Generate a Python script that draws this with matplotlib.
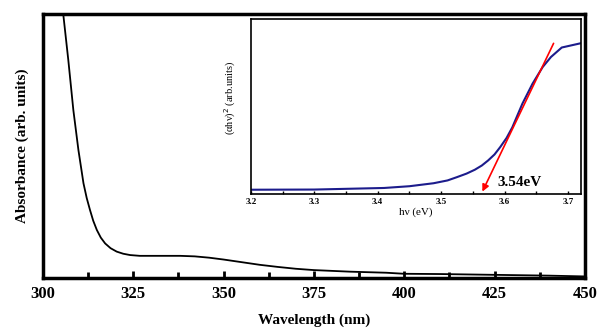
import matplotlib
matplotlib.use("Agg")
import matplotlib.pyplot as plt
from matplotlib.ticker import MultipleLocator

# main absorbance spectrum (arb. units)
wl = [304.8, 305.6, 307.0, 308.4, 309.8, 311.2, 312.1, 313.0, 313.9, 314.9, 316.0, 317.2, 318.7,
      320.4, 322.2, 324.1, 326.8, 332, 338, 342, 346, 350, 355, 360, 365, 370, 375, 385, 395,
      400, 410, 420, 430, 440, 450]
absb = [1.05, 1.0, 0.826, 0.636, 0.485, 0.359, 0.303, 0.258, 0.217, 0.182, 0.153, 0.131, 0.113,
        0.1, 0.092, 0.087, 0.084, 0.084, 0.084, 0.082, 0.077, 0.07, 0.06, 0.05, 0.042, 0.035,
        0.03, 0.024, 0.02, 0.016, 0.015, 0.013, 0.011, 0.009, 0.006]

# Tauc plot (inset)
ev = [3.2, 3.3, 3.41, 3.45, 3.488, 3.51, 3.525, 3.54, 3.553, 3.564, 3.574, 3.584, 3.593, 3.603,
      3.612, 3.628, 3.644, 3.66, 3.673, 3.69, 3.722]
tauc = [0.025, 0.026, 0.035, 0.045, 0.062, 0.078, 0.097, 0.117, 0.139, 0.163, 0.192, 0.226, 0.268,
        0.32, 0.38, 0.516, 0.63, 0.725, 0.782, 0.836, 0.862]

# linear fit line to the band edge
fit_x = [3.563, 3.679]
fit_y = [0.0, 0.874]
gap_label = "3.54eV"

serif = "Liberation Serif"

fig = plt.figure(figsize=(6, 3.29), dpi=100)
ax = fig.add_axes([0.0717, 0.155, 0.903, 0.802])
ax.plot(wl, absb, color="black", lw=1.3)
ax.set_xlim(300, 450)
ax.set_ylim(0, 1)
ax.xaxis.set_major_locator(MultipleLocator(25))
ax.xaxis.set_minor_locator(MultipleLocator(12.5))
ax.tick_params(axis="x", which="major", direction="in", length=5, width=2, pad=6)
ax.tick_params(axis="x", which="minor", direction="in", length=4, width=2)
ax.set_yticks([])
for lab in ax.get_xticklabels():
    lab.set_fontfamily(serif)
    lab.set_fontweight("bold")
    lab.set_fontsize(12)
for s in ax.spines.values():
    s.set_linewidth(2.5)
ax.set_xlabel("Wavelength (nm)", family=serif, weight="bold", fontsize=11, labelpad=8)
ax.set_ylabel("Absorbance (arb. units)", family=serif, weight="bold", fontsize=11, labelpad=10)

# inset
ins = fig.add_axes([0.418, 0.41, 0.55, 0.533])
ins.plot(ev, tauc, color="#1c1c8c", lw=1.5)
ins.annotate("", xy=(fit_x[0], fit_y[0]), xytext=(fit_x[1], fit_y[1]),
             arrowprops=dict(arrowstyle="-|>", color="red", lw=1.2, mutation_scale=10))
ins.text(3.588, 0.045, gap_label, family=serif, weight="bold", fontsize=11)
ins.set_xlim(3.2, 3.72)
ins.set_ylim(0, 1)
ins.xaxis.set_major_locator(MultipleLocator(0.1))
ins.xaxis.set_minor_locator(MultipleLocator(0.05))
ins.tick_params(axis="x", which="both", direction="in", length=2.5, width=1, pad=3)
ins.set_yticks([])
for lab in ins.get_xticklabels():
    lab.set_fontfamily(serif)
    lab.set_fontweight("bold")
    lab.set_fontsize(6.5)
for s in ins.spines.values():
    s.set_linewidth(1.2)
ins.set_xlabel("h\u03bd (eV)", family=serif, fontsize=8, labelpad=1)
ins.set_ylabel("(\u03b1h\u03bd)$^2$ (arb.units)", family=serif, fontsize=7.5, labelpad=3)
ins.yaxis.set_label_coords(-0.04, 0.55)

fig.savefig("out.png", dpi=100)
